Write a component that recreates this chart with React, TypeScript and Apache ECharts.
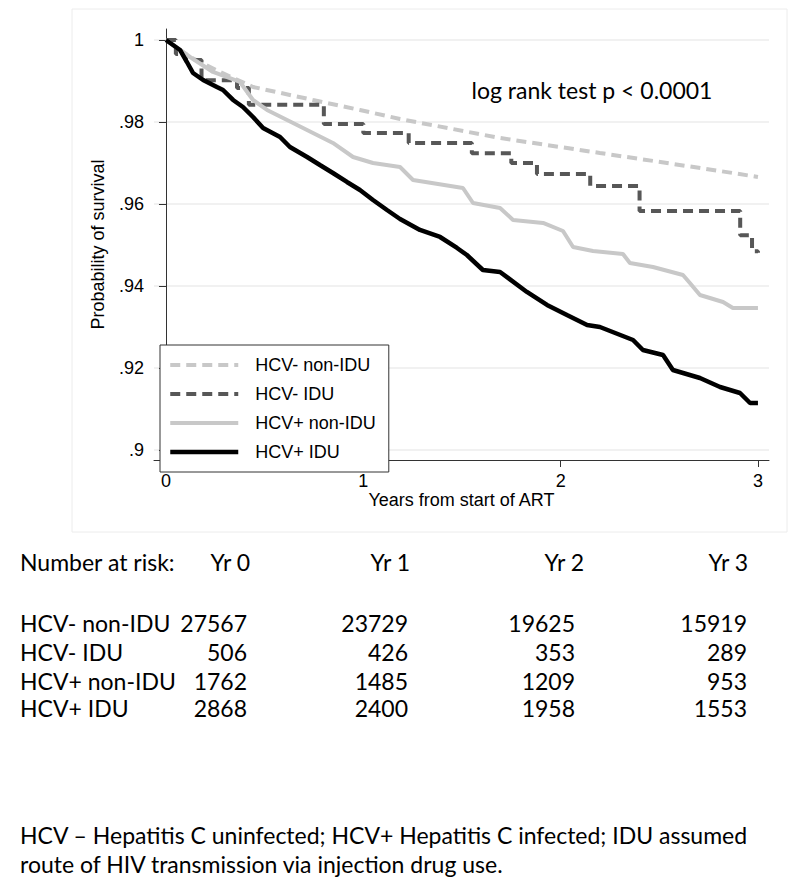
import React, { useEffect, useRef } from "react";
import * as echarts from "echarts";

// ---- data ----
const seriesNames = ["HCV- non-IDU", "HCV- IDU", "HCV+ non-IDU", "HCV+ IDU"];

const hcvNegNonIduTime = [0, 0.122, 0.274, 0.441, 0.745, 0.983, 1.186, 1.693, 2.199, 2.539, 2.873, 3.0];
const hcvNegNonIduSurv = [1, 0.99585, 0.9922, 0.98854, 0.98537, 0.98293, 0.98073, 0.9761, 0.97244, 0.97, 0.96756, 0.96659];

const hcvNegIduTime = [0, 0.05, 0.1, 0.18, 0.36, 0.42, 0.8, 1.0, 1.23, 1.55, 1.75, 1.88, 2.15, 2.4, 2.91, 2.97, 3.0];
const hcvNegIduSurv = [1, 0.9966, 0.9951, 0.9902, 0.9883, 0.9842, 0.9795, 0.9773, 0.9749, 0.9724, 0.97, 0.9673, 0.9644, 0.9583, 0.9524, 0.9485, 0.9481];

const hcvPosNonIduTime = [0, 0.122, 0.238, 0.375, 0.441, 0.512, 0.644, 0.745, 0.846, 0.948, 1.049, 1.186, 1.252, 1.505, 1.556, 1.693, 1.759, 1.911, 2.012, 2.063, 2.164, 2.316, 2.351, 2.468, 2.62, 2.655, 2.706, 2.823, 2.873, 3.0];
const hcvPosNonIduSurv = [1, 0.99585, 0.9922, 0.98976, 0.98537, 0.98293, 0.97976, 0.97732, 0.97488, 0.97146, 0.97, 0.96902, 0.96585, 0.9639, 0.96024, 0.95902, 0.9561, 0.95537, 0.95341, 0.94951, 0.94854, 0.9478, 0.94561, 0.94463, 0.94268, 0.94073, 0.9378, 0.9361, 0.93463, 0.93463];

const hcvPosIduTime = [0, 0.071, 0.106, 0.137, 0.188, 0.258, 0.289, 0.34, 0.39, 0.441, 0.492, 0.578, 0.628, 0.715, 0.78, 0.846, 0.917, 0.983, 1.049, 1.12, 1.186, 1.287, 1.389, 1.475, 1.525, 1.606, 1.693, 1.829, 1.931, 2.032, 2.134, 2.199, 2.367, 2.417, 2.519, 2.569, 2.706, 2.808, 2.909, 2.96, 3.0];
const hcvPosIduSurv = [1, 0.99756, 0.99463, 0.99195, 0.99024, 0.98854, 0.9878, 0.98537, 0.98366, 0.98122, 0.97854, 0.97634, 0.9739, 0.97146, 0.96951, 0.96756, 0.96537, 0.96341, 0.96098, 0.95854, 0.95634, 0.95366, 0.95195, 0.94927, 0.94756, 0.9439, 0.94341, 0.93854, 0.93537, 0.93293, 0.93049, 0.93, 0.92683, 0.92439, 0.92317, 0.91951, 0.91756, 0.91537, 0.9139, 0.91146, 0.91146];

const yTicks = [0.9, 0.92, 0.94, 0.96, 0.98, 1];
const xTicks = [0, 1, 2, 3];

const riskHeader = "Number at risk:";
const riskYears = ["Yr 0", "Yr 1", "Yr 2", "Yr 3"];
const riskGroups = ["HCV- non-IDU", "HCV- IDU", "HCV+ non-IDU", "HCV+ IDU"];
const riskHcvNegNonIdu = [27567, 23729, 19625, 15919];
const riskHcvNegIdu = [506, 426, 353, 289];
const riskHcvPosNonIdu = [1762, 1485, 1209, 953];
const riskHcvPosIdu = [2868, 2400, 1958, 1553];

const testText = "log rank test p < 0.0001";
const footnoteLines = [
  "HCV \u2013 Hepatitis C uninfected; HCV+ Hepatitis C infected; IDU assumed",
  "route of HIV transmission via injection drug use.",
];

// ---- layout/styling ----
const AX_FONT = "Liberation Sans, Arial, sans-serif";
const TXT_FONT = "Lato, sans-serif";
const TXT_SIZE = 23;

const styles = [
  { color: "#c8c8c8", width: 4, type: [10, 6] as any },
  { color: "#575757", width: 4, type: [10, 6] as any },
  { color: "#c8c8c8", width: 4, type: "solid" as any },
  { color: "#000000", width: 4.5, type: "solid" as any },
];

function zip(t: number[], s: number[]) {
  return t.map((v, i) => [v, s[i]]);
}

export default function App() {
  const ref = useRef<HTMLDivElement>(null);

  useEffect(() => {
    if (!ref.current) return;
    const chart = echarts.init(ref.current, undefined, { renderer: "svg" });

    const riskRows = [riskHcvNegNonIdu, riskHcvNegIdu, riskHcvPosNonIdu, riskHcvPosIdu];
    const headerRight = [250, 410, 584, 748];
    const colRight = [247, 408, 575, 747];
    const rowY = [623, 652, 681, 708];

    const txt = (text: string, x: number, y: number, align: string) => ({
      type: "text",
      silent: true,
      style: {
        text,
        x,
        y,
        fill: "#000",
        fontSize: TXT_SIZE,
        fontFamily: TXT_FONT,
        align,
        verticalAlign: "middle",
        textAlign: align,
        textVerticalAlign: "middle",
      },
    });

    const graphics: any[] = [
      {
        type: "rect",
        silent: true,
        z: -10,
        shape: { x: 72, y: 9, width: 715, height: 523 },
        style: { fill: "none", stroke: "#ececec", lineWidth: 1 },
      },
      txt(testText, 592, 90, "center"),
      txt(riskHeader, 20, 562, "left"),
    ];
    riskYears.forEach((y, i) => graphics.push(txt(y, headerRight[i], 562, "right")));
    riskGroups.forEach((g, r) => {
      graphics.push(txt(g, 20, rowY[r], "left"));
      riskRows[r].forEach((v, c) => graphics.push(txt(String(v), colRight[c], rowY[r], "right")));
    });
    footnoteLines.forEach((l, i) => graphics.push(txt(l, 20, 835 + i * 29, "left")));

    const lineBase = { type: "line", showSymbol: false, symbol: "none", silent: true };
    const survData = [
      zip(hcvNegNonIduTime, hcvNegNonIduSurv),
      zip(hcvNegIduTime, hcvNegIduSurv),
      zip(hcvPosNonIduTime, hcvPosNonIduSurv),
      zip(hcvPosIduTime, hcvPosIduSurv),
    ];

    chart.setOption({
      animation: false,
      backgroundColor: "#fff",
      grid: { left: 154, right: 31, top: 29, bottom: 428, containLabel: false },
      legend: {
        data: seriesNames.map((n, i) => ({
          name: n,
          lineStyle: { color: styles[i].color, width: styles[i].width, type: styles[i].type, cap: "butt" },
          itemStyle: { opacity: 0, color: "transparent", borderWidth: 0 },
        })),
        orient: "vertical",
        left: 160,
        top: 345,
        itemWidth: 68,
        itemHeight: 14,
        itemGap: 11,
        padding: [11, 13, 11, 8],
        backgroundColor: "#fff",
        borderColor: "#333",
        borderWidth: 1,
        borderRadius: 0,
        selectedMode: false,
        itemStyle: { opacity: 0 },
        textStyle: { fontSize: 18, fontFamily: AX_FONT, color: "#000", padding: [0, 0, 0, 12] },
      },
      xAxis: {
        type: "value",
        min: -0.0608,
        max: 3.056,
        name: "Years from start of ART",
        nameLocation: "middle",
        nameGap: 30,
        nameTextStyle: { fontSize: 18, fontFamily: AX_FONT, color: "#000" },
        axisLine: { show: true, lineStyle: { color: "#333", width: 1 } },
        axisTick: { show: true, length: 7, customValues: xTicks, lineStyle: { color: "#333" } },
        axisLabel: {
          customValues: xTicks,
          margin: 12,
          fontSize: 18,
          fontFamily: AX_FONT,
          color: "#000",
          formatter: (v: number) => String(v),
        },
        splitLine: { show: false },
      },
      yAxis: {
        type: "value",
        min: 0.89756,
        max: 1.00268,
        name: "Probability of survival",
        nameLocation: "middle",
        nameGap: 47,
        nameTextStyle: { fontSize: 18, fontFamily: AX_FONT, color: "#000" },
        axisLine: { show: true, lineStyle: { color: "#333", width: 1 } },
        axisTick: { show: true, length: 7, customValues: yTicks, lineStyle: { color: "#333" } },
        axisLabel: {
          customValues: yTicks,
          margin: 10,
          fontSize: 18,
          fontFamily: AX_FONT,
          color: "#000",
          formatter: (v: number) => (v === 1 ? "1" : String(v).replace(/^0/, "")),
        },
        splitLine: { show: true, lineStyle: { color: "#ececec", width: 1.5 } },
      },
      series: seriesNames.map((n, i) => ({
        ...lineBase,
        name: n,
        step: i === 1 ? "end" : false,
        data: survData[i],
        lineStyle: { color: styles[i].color, width: styles[i].width, type: styles[i].type },
        itemStyle: { color: styles[i].color },
      })),
      graphic: graphics,
    });

    return () => chart.dispose();
  }, []);

  return (
    <div
      ref={ref}
      style={{ position: "absolute", left: 0, top: 0, width: 800, height: 888, background: "#fff" }}
    />
  );
}
